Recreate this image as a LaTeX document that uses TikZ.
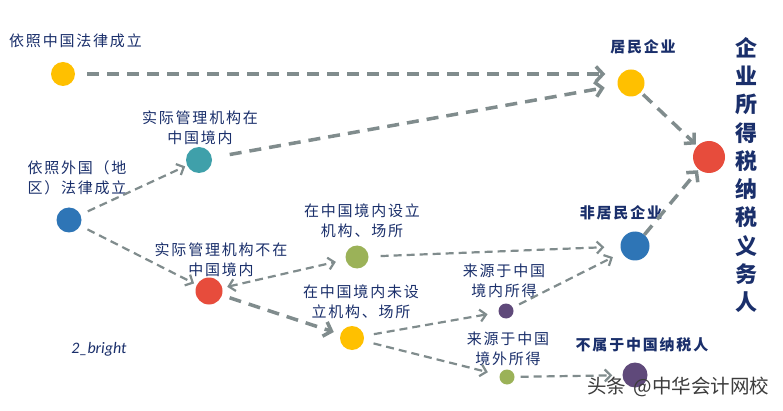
\documentclass[tikz,border=0pt]{standalone}
\usepackage{fontspec}
\usetikzlibrary{arrows.meta}
\newfontfamily\cjk[LetterSpace=12]{Noto Sans CJK SC}
\newfontfamily\cjkv{Noto Sans CJK SC}
\newfontfamily\wmfont{Noto Sans CJK SC}
\newfontfamily\calfont{Carlito}
\definecolor{lnc}{RGB}{128,140,141}
\definecolor{txt}{RGB}{26,47,107}
\definecolor{cyel}{RGB}{255,192,0}
\definecolor{cteal}{RGB}{63,160,170}
\definecolor{cblue}{RGB}{46,117,182}
\definecolor{cred}{RGB}{231,76,60}
\definecolor{cgreen}{RGB}{155,178,88}
\definecolor{cpurp}{RGB}{95,73,122}
\definecolor{wmc}{RGB}{60,60,60}
\begin{document}
\begin{tikzpicture}[x=1pt,y=-1pt,
  dot/.style={circle,inner sep=0pt,draw=none},
  lbl/.style={font=\cjk\fontsize{15}{20.5}\selectfont,text=txt,align=center,inner sep=0pt},
  hd/.style={font=\cjk\bfseries\fontsize{15}{20}\selectfont,text=txt,align=center,inner sep=0pt},
  thk/.style={draw=lnc,line width=3.5pt,dash pattern=on 12pt off 8pt,-{Straight Barb[length=7pt,width=15pt]}},
  thn/.style={draw=lnc,line width=2.2pt,dash pattern=on 8pt off 5pt,-{Straight Barb[length=6pt,width=12pt]}}]
\useasboundingbox (0,0) rectangle (783,411);
\fill[white] (0,0) rectangle (783,411);
% dots
\node[dot,fill=cyel,minimum size=24pt] (y1) at (63,74) {};
\node[dot,fill=cteal,minimum size=26pt] (teal) at (199,160) {};
\node[dot,fill=cblue,minimum size=25pt] (b1) at (69,220) {};
\node[dot,fill=cred,minimum size=27pt] (r1) at (209,291) {};
\node[dot,fill=cgreen,minimum size=23pt] (g1) at (357,257) {};
\node[dot,fill=cyel,minimum size=24pt] (y2) at (352,338) {};
\node[dot,fill=cpurp,minimum size=15pt] (p1) at (506,311) {};
\node[dot,fill=cgreen,minimum size=15pt] (g2) at (507,377) {};
\node[dot,fill=cyel,minimum size=27pt] (res) at (631,83) {};
\node[dot,fill=cblue,minimum size=29pt] (nres) at (635,246) {};
\node[dot,fill=cred,minimum size=32pt] (tax) at (709,157) {};
\node[dot,fill=cpurp,minimum size=25pt] (p2) at (635,375) {};
% labels
\node[lbl,anchor=west] (l1) at (9,41) {依照中国法律成立};
\node[lbl] (l2) at (200,128) {实际管理机构在\\中国境内};
\node[lbl] (l3) at (77,178) {依照外国（地\\区）法律成立};
\node[lbl] (l4) at (221,260) {实际管理机构不在\\中国境内};
\node[lbl] (l5) at (362,221) {在中国境内设立\\机构、场所};
\node[lbl] (l6) at (361,302) {在中国境内未设\\立机构、场所};
\node[lbl] (l7) at (504,281) {来源于中国\\境内所得};
\node[lbl] (l8) at (508,349) {来源于中国\\境外所得};
\node[hd] (h1) at (643,47) {居民企业};
\node[hd] (h2) at (621,213) {非居民企业};
\node[hd] (h3) at (642,345) {不属于中国纳税人};
\node[font=\cjkv\bfseries\fontsize{22}{28.3}\selectfont,text=txt,align=center,inner sep=0pt] (vt) at (746,175)
  {企\\业\\所\\得\\税\\纳\\税\\义\\务\\人};
\node[font=\calfont\itshape\fontsize{16}{18}\selectfont,text=txt,inner sep=0pt] (br) at (99,349) {2\_bright};
% connectors
\draw[thk,shorten <=12pt,shorten >=12pt] (y1) -- (y1 -| res.west);
\draw[thk,shorten <=18pt,shorten >=13pt] (teal) -- (res);
\draw[thn,shorten <=8pt,shorten >=2pt] (b1) -- (teal);
\draw[thn,shorten <=8pt,shorten >=3pt] (b1) -- (r1);
\draw[thn,{Straight Barb[length=6pt,width=12pt]}-{Straight Barb[length=6pt,width=12pt]},shorten <=5pt,shorten >=10pt] (r1) -- (g1);
\draw[thk,shorten <=8pt,shorten >=7pt] (r1) -- (y2);
\draw[thn,shorten <=12pt,shorten >=16pt] (g1) -- (nres);
\draw[thn,shorten <=10pt,shorten >=11pt] (y2) -- (p1);
\draw[thn,shorten <=10pt,shorten >=12pt] (y2) -- (g2);
\draw[thn,shorten <=7pt,shorten >=10pt] (p1) -- (nres);
\draw[thn,shorten <=6pt,shorten >=10pt] (g2) -- (p2);
\draw[thk,shorten <=3pt,shorten >=2pt] (res) -- (tax);
\draw[thk,shorten <=0pt,shorten >=1pt] (nres) -- (tax);
% watermark
\node[font=\wmfont\fontsize{19.5}{21}\selectfont,text=wmc,anchor=west,inner sep=0pt] (wm) at (587,387) {头条\hspace{3pt} @中华会计网校};
\end{tikzpicture}
\end{document}
